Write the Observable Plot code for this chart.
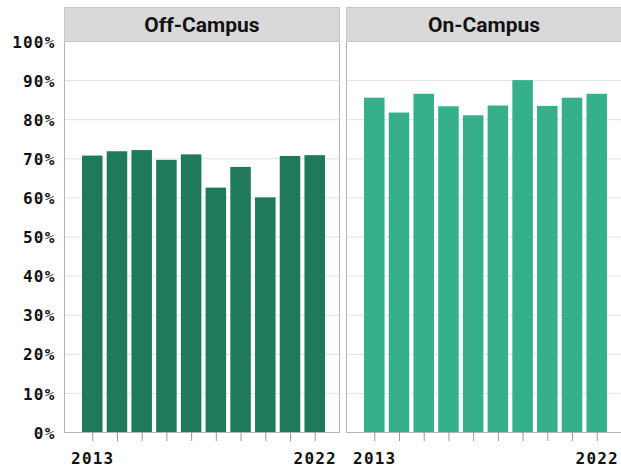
<!DOCTYPE html>
<html>
<head>
<meta charset="utf-8">
<script src="https://cdn.jsdelivr.net/npm/d3@7"></script>
<script src="https://cdn.jsdelivr.net/npm/@observablehq/plot@0.6"></script>
<style>
  html, body { margin: 0; padding: 0; background: #fff; }
  #chart svg { display: block; }
  #chart g[aria-label="y-axis tick label"] text,
  #chart g[aria-label="x-axis tick label"] text { letter-spacing: 1.2px; }
</style>
</head>
<body>
<div id="chart"></div>
<script>
const years = [2013, 2014, 2015, 2016, 2017, 2018, 2019, 2020, 2021, 2022];
const campuses = ["Off-Campus", "On-Campus"];
const offCampus = [70.7, 71.8, 72.1, 69.6, 71.0, 62.5, 67.8, 60.0, 70.6, 70.8];
const onCampus = [85.5, 81.7, 86.5, 83.3, 81.0, 83.5, 90.0, 83.4, 85.5, 86.5];
const labeledYears = [2013, 2022];
const yTicks = [0, 10, 20, 30, 40, 50, 60, 70, 80, 90, 100];
const colors = ["#1e7a5a", "#35b08a"];

const rows = [
  ...years.map((year, i) => ({campus: campuses[0], year, value: offCampus[i]})),
  ...years.map((year, i) => ({campus: campuses[1], year, value: onCampus[i]}))
];

const mono = "'DejaVu Sans Mono', monospace";
const W = 621, H = 469, mTop = 41, mBottom = 37, stripH = 34;
const innerH = H - mTop - mBottom;

const chart = Plot.plot({
  width: W,
  height: H,
  marginLeft: 64,
  marginRight: 0,
  marginTop: mTop,
  marginBottom: mBottom,
  style: {fontFamily: mono, fontSize: "16px", fontWeight: "bold", background: "#fff", color: "#111"},
  fx: {domain: campuses, axis: null, paddingInner: 0.025, paddingOuter: 0, round: false},
  x: {type: "band", domain: years, paddingInner: 0.17, paddingOuter: 0, insetLeft: 18, insetRight: 14, round: false, label: null},
  y: {domain: [0, 100], label: null},
  color: {domain: campuses, range: colors},
  marks: [
    Plot.gridY(yTicks, {stroke: "#e2e2e2", strokeOpacity: 1}),
    Plot.barY(rows, {fx: "campus", x: "year", y: "value", fill: "campus"}),
    Plot.frame({stroke: "#b5b5b5", strokeWidth: 1}),
    Plot.frame({fill: "#d9d9d9", stroke: "#c8c8c8", insetTop: -stripH, insetBottom: innerH}),
    Plot.text(campuses, {fx: d => d, text: d => d, frameAnchor: "top", dy: -16, lineAnchor: "middle",
      fontSize: 21, fontWeight: "bold", fontFamily: "Roboto", fill: "#111"}),
    Plot.axisY(yTicks, {tickSize: 0, tickPadding: 9, dy: 1, tickFormat: d => d + "%", label: null, fill: "#111"}),
    Plot.axisX(years, {tickSize: 9, tickPadding: 11, stroke: "#999", fill: "#111", label: null,
      tickFormat: d => labeledYears.includes(d) ? String(d) : ""})
  ]
});
document.getElementById("chart").appendChild(chart);
</script>
</body>
</html>
